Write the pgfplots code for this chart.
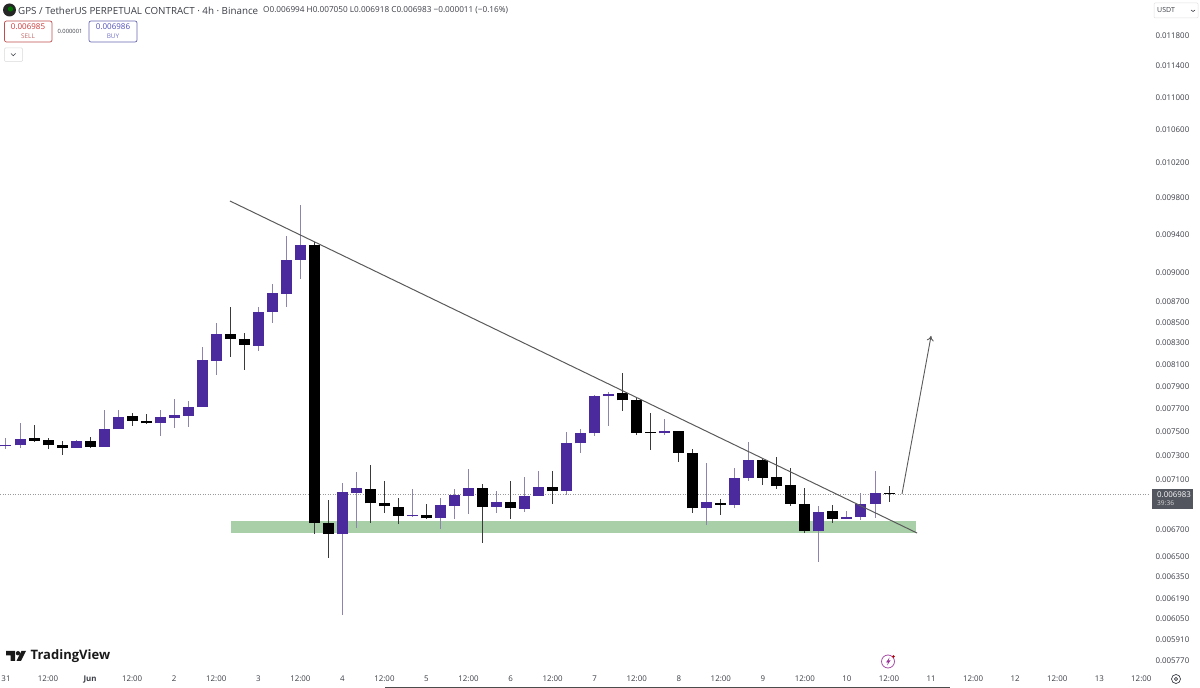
\documentclass[border=0pt]{standalone}
\usepackage{fontspec}
\setmainfont{Open Sans}
\usepackage{pgfplots}
\usepackage{pgfplotstable}
\pgfplotsset{compat=1.18}
\usetikzlibrary{arrows.meta}
\definecolor{candle}{HTML}{4B2A9E}
\definecolor{pwick}{HTML}{8C84AC}
\definecolor{bwick}{HTML}{3A3A3A}
\definecolor{zone}{HTML}{A9CFA9}
\definecolor{txt}{HTML}{3A3D45}
\definecolor{trend}{HTML}{5A5A5A}
\definecolor{tag}{HTML}{53555F}
\pgfplotstableread{
x low high top bot
0 0.007354 0.007442 0.007388 0.007375
4 0.007357 0.007571 0.007439 0.007383
20 0.007357 0.007428 0.007417 0.007360
28 0.007366 0.007690 0.007524 0.007371
32 0.007519 0.007685 0.007624 0.007519
44 0.007462 0.007685 0.007624 0.007571
48 0.007533 0.007788 0.007641 0.007620
52 0.007537 0.007770 0.007716 0.007637
56 0.007711 0.008263 0.008138 0.007714
60 0.007999 0.008490 0.008386 0.008134
72 0.008222 0.008647 0.008601 0.008275
76 0.008490 0.008878 0.008787 0.008604
80 0.008647 0.009384 0.009132 0.008783
84 0.008935 0.009719 0.009284 0.009129
96 0.006081 0.007073 0.006996 0.006669
100 0.006713 0.007158 0.007028 0.006993
116 0.006803 0.007020 0.006819 0.006808
124 0.006705 0.006948 0.006892 0.006793
128 0.006787 0.007025 0.006972 0.006889
132 0.006826 0.007187 0.007028 0.006968
140 0.006829 0.007004 0.006921 0.006879
148 0.006837 0.007117 0.006966 0.006865
152 0.006966 0.007171 0.007037 0.006966
160 0.006976 0.007494 0.007400 0.007006
164 0.007320 0.007519 0.007485 0.007400
168 0.007462 0.007821 0.007812 0.007485
172 0.007548 0.007848 0.007832 0.007812
188 0.007468 0.007606 0.007505 0.007485
200 0.006741 0.007237 0.006916 0.006868
208 0.006872 0.007191 0.007109 0.006894
212 0.007085 0.007413 0.007262 0.007109
232 0.006459 0.006887 0.006842 0.006690
240 0.006782 0.006850 0.006798 0.006787
244 0.006777 0.006988 0.006900 0.006800
248 0.006793 0.007171 0.006990 0.006903
}\purplecandles
\pgfplotstableread{
x low high top bot
8 0.007408 0.007556 0.007447 0.007422
12 0.007349 0.007447 0.007425 0.007383
16 0.007304 0.007422 0.007385 0.007360
24 0.007357 0.007456 0.007417 0.007368
36 0.007550 0.007659 0.007632 0.007594
40 0.007563 0.007652 0.007594 0.007571
64 0.008171 0.008647 0.008389 0.008342
68 0.008045 0.008393 0.008342 0.008285
88 0.006667 0.009322 0.009284 0.006756
92 0.006490 0.006934 0.006756 0.006669
104 0.006751 0.007215 0.007025 0.006908
108 0.006829 0.007089 0.006913 0.006884
112 0.006746 0.006948 0.006881 0.006808
120 0.006787 0.006900 0.006819 0.006790
136 0.006604 0.007063 0.007030 0.006879
144 0.006785 0.007085 0.006921 0.006868
156 0.006903 0.007166 0.007040 0.007004
176 0.007682 0.008018 0.007836 0.007773
180 0.007468 0.007805 0.007776 0.007490
184 0.007343 0.007659 0.007499 0.007490
192 0.007243 0.007505 0.007502 0.007320
196 0.006834 0.007349 0.007320 0.006868
204 0.006819 0.006940 0.006910 0.006897
216 0.007052 0.007270 0.007262 0.007114
220 0.007020 0.007287 0.007120 0.007047
224 0.006887 0.007193 0.007056 0.006905
228 0.006675 0.007030 0.006905 0.006690
236 0.006751 0.006897 0.006850 0.006787
252 0.006918 0.007050 0.006994 0.006983
}\blackcandles
\pgfplotsset{
  wicks/.style={draw=none,mark=none,forget plot,
    error bars/.cd,y dir=both,y explicit,error mark=none,
    error bar style={line width=1pt,solid,color=#1}},
  bodies/.style={draw=none,mark=none,forget plot,
    error bars/.cd,y dir=plus,y explicit,error mark=none,
    error bar style={line width=11pt,line cap=butt,solid,color=#1}},
}
\begin{document}
\begin{tikzpicture}
\useasboundingbox (0,0) rectangle (1200pt,688pt);
\begin{axis}[
  at={(0pt,20pt)},anchor=south west,
  scale only axis,width=1150pt,height=668pt,
  ymode=log,
  xmin=-1.712,xmax=326.48,
  ymin=0.005720,ymax=0.012295,
  axis line style={draw=none},
  major tick length=0pt,minor tick length=0pt,
  xtick={0,12,...,324},
  xticklabels={31,12:00,\textbf{Jun},12:00,2,12:00,3,12:00,4,12:00,5,12:00,6,12:00,7,12:00,8,12:00,9,12:00,10,12:00,11,12:00,12,12:00,13,12:00},
  ytick={0.0118,0.0114,0.011,0.0106,0.0102,0.0098,0.0094,0.009,0.0087,0.0085,0.0083,0.0081,0.0079,0.0077,0.0075,0.0073,0.0071,0.0067,0.0065,0.00635,0.00619,0.00605,0.00591,0.00577},
  yticklabels={0.011800,0.011400,0.011000,0.010600,0.010200,0.009800,0.009400,0.009000,0.008700,0.008500,0.008300,0.008100,0.007900,0.007700,0.007500,0.007300,0.007100,0.006700,0.006500,0.006350,0.006190,0.006050,0.005910,0.005770},
  yticklabel pos=right,
  yticklabel style={anchor=west,xshift=2pt,font=\fontsize{7.9}{9}\selectfont,text=txt},
  xticklabel style={anchor=center,yshift=-11pt,font=\fontsize{7.9}{9}\selectfont,text=txt},
  clip=true,
]
% support zone
\addplot[fill=zone,draw=none,forget plot] coordinates {(64.2,0.006773)(259.7,0.006773)(259.7,0.006675)(64.2,0.006675)} -- cycle;
% last price line
\addplot[forget plot,color=gray!80,line width=0.5pt,dotted] coordinates {(-1.712,0.006983)(326.48,0.006983)};
% wicks
\addplot[wicks=pwick] table[x=x,y=top,y error plus expr=\thisrow{high}-\thisrow{top},y error minus expr=\thisrow{top}-\thisrow{low}] {\purplecandles};
\addplot[wicks=bwick] table[x=x,y=top,y error plus expr=\thisrow{high}-\thisrow{top},y error minus expr=\thisrow{top}-\thisrow{low}] {\blackcandles};
% bodies
\addplot[bodies=candle] table[x=x,y=bot,y error plus expr=\thisrow{top}-\thisrow{bot},y error minus expr=0] {\purplecandles};
\addplot[bodies=black] table[x=x,y=bot,y error plus expr=\thisrow{top}-\thisrow{bot},y error minus expr=0] {\blackcandles};
% trend line and projection
\addplot[forget plot,color=trend,line width=1pt] coordinates {(63.9,0.009767)(260,0.006677)};
\addplot[forget plot,color=trend,line width=0.9pt,-{To[length=5pt,width=7pt]}] coordinates {(255.7,0.006982)(264,0.008368)};
\end{axis}
\begin{scope}[x=1pt,y=-1pt,yshift=688pt]
% header
\fill[black!85] (9.5,10) circle (6.5);
\fill[green!45!black] (10.5,9) circle (2.6);
\node[anchor=west,inner sep=0,text=txt,font=\fontsize{9.8}{12}\selectfont] at (18,10.5) {GPS / TetherUS PERPETUAL CONTRACT · 4h · Binance};
\node[anchor=west,inner sep=0,text=txt,font=\fontsize{8.2}{10}\selectfont] at (263,10.5) {O0.006994 H0.007050 L0.006918 C0.006983 −0.000011 (−0.16\%)};
\draw[color=red!65!black!70,rounded corners=2,line width=0.7pt] (4.5,21) rectangle (52,42);
\node[text=red!75!black!80,inner sep=0,font=\fontsize{8}{9}\selectfont] at (28,27) {0.006985};
\node[text=red!60!black!60,inner sep=0,font=\fontsize{6.4}{7}\selectfont] at (28,36.5) {SELL};
\node[text=txt,inner sep=0,font=\fontsize{5.8}{7}\selectfont] at (70,31.5) {0.000001};
\draw[color=blue!50!black!60,rounded corners=2,line width=0.7pt] (89,21) rectangle (137,42);
\node[text=blue!60!black!70,inner sep=0,font=\fontsize{8}{9}\selectfont] at (113,27) {0.006986};
\node[text=blue!60!black!55,inner sep=0,font=\fontsize{6.4}{7}\selectfont] at (113,36.5) {BUY};
\draw[color=black!15,rounded corners=1,line width=0.5pt] (4.5,48) rectangle (22.5,61.5);
\draw[color=txt,line width=0.6pt] (11,53.5) -- (13.3,55.7) -- (15.6,53.5);
% currency
\draw[color=black!12,rounded corners=1,line width=0.5pt] (1154,3) rectangle (1198,18);
\node[anchor=west,text=txt,inner sep=0,font=\fontsize{7}{8}\selectfont] at (1157,10.5) {USDT};
\draw[color=txt,line width=0.6pt] (1191,10) -- (1193,11.5) -- (1195,10);
% last price tag
\fill[fill=tag] (1152,489) rectangle (1193,509);
\node[anchor=west,text=white,inner sep=0,font=\fontsize{7.9}{9}\selectfont] at (1157,494.5) {0.006983};
\node[anchor=west,text=white!85!black,inner sep=0,font=\fontsize{6.6}{8}\selectfont] at (1157,503.5) {39:36};
% TradingView logo
\fill[black!90] (6,651) -- (15,651) -- (15,661) -- (10.5,661) -- (10.5,655.5) -- (6,655.5) -- cycle;
\fill[black!90] (18,653.2) circle (2.2);
\fill[black!90] (21.5,651) -- (26,651) -- (21,661) -- (16.5,661) -- cycle;
\node[anchor=west,inner sep=0,text=black!90,font=\fontsize{13}{15}\selectfont\bfseries] at (30.5,656.5) {TradingView};
% lightning button
\draw[color=violet!70!white,line width=0.8pt] (888,661.5) circle (6.5);
\fill[color=violet!80!white] (889.5,657.5) -- (886,662.5) -- (888,662.5) -- (887,665.5) -- (890.5,660.5) -- (888.5,660.5) -- cycle;
\fill[red!70!black] (893.5,656.5) circle (1.4);
% settings icon
\draw[color=txt,line width=0.7pt] (1176,679) circle (4.5);
\draw[color=txt,line width=0.7pt] (1176,679) circle (1.7);
% bottom edge
\draw[color=black!70,line width=1pt] (385,687.5) -- (950,687.5);
\end{scope}
\end{tikzpicture}
\end{document}
